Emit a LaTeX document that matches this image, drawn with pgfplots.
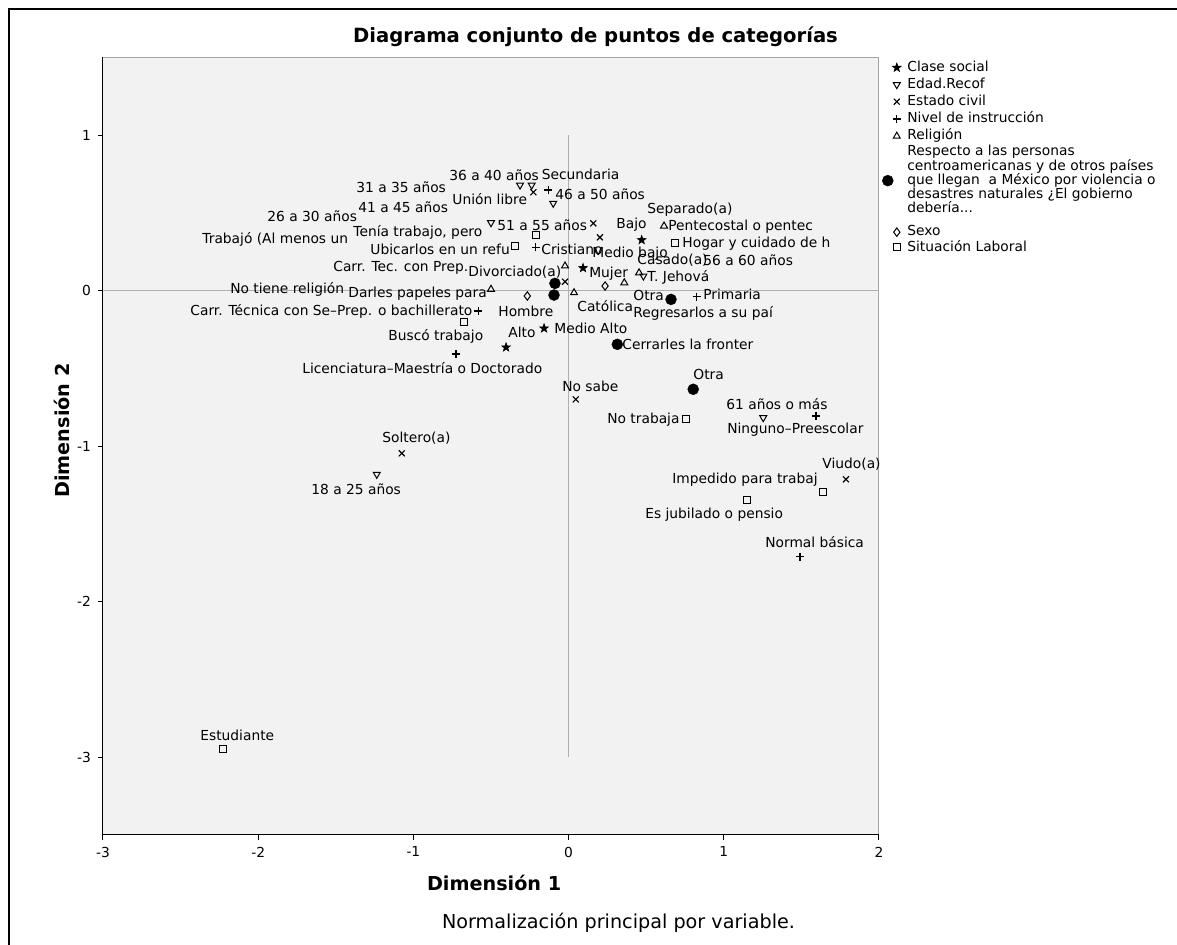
\documentclass[border=0pt]{standalone}
\usepackage{fontspec}
\setmainfont{DejaVu Sans}
\usepackage{pgfplots}
\pgfplotsset{compat=1.18}
\usetikzlibrary{plotmarks}

\definecolor{plotbg}{RGB}{242,242,242}
\definecolor{framegray}{RGB}{165,165,165}
\definecolor{refgray}{RGB}{175,175,175}

\newcommand{\lbl}{\fontsize{6.9}{8}\selectfont}
\newcommand{\rs}[2]{\vrule height #1 depth #2 width 0pt\relax}

% filled five-pointed star
\pgfdeclareplotmark{fstar}{%
  \pgfpathmoveto{\pgfpointpolar{90}{\pgfplotmarksize}}%
  \pgfpathlineto{\pgfpointpolar{126}{0.4\pgfplotmarksize}}%
  \pgfpathlineto{\pgfpointpolar{162}{\pgfplotmarksize}}%
  \pgfpathlineto{\pgfpointpolar{198}{0.4\pgfplotmarksize}}%
  \pgfpathlineto{\pgfpointpolar{234}{\pgfplotmarksize}}%
  \pgfpathlineto{\pgfpointpolar{270}{0.4\pgfplotmarksize}}%
  \pgfpathlineto{\pgfpointpolar{306}{\pgfplotmarksize}}%
  \pgfpathlineto{\pgfpointpolar{342}{0.4\pgfplotmarksize}}%
  \pgfpathlineto{\pgfpointpolar{18}{\pgfplotmarksize}}%
  \pgfpathlineto{\pgfpointpolar{54}{0.4\pgfplotmarksize}}%
  \pgfpathclose
  \pgfusepathqfillstroke
}

\tikzset{lab/.style={anchor=west, inner sep=0pt, font=\lbl}}

\pgfplotsset{
  legimg/.style={legend image code/.code={\draw[##1] plot coordinates {(0pt,1.9pt)};}},
  legimgl/.style={legend image code/.code={\draw[##1] plot coordinates {(-4.5pt,1.9pt)};}},
  sstar/.style={only marks, mark=fstar, mark size=2.3pt, mark options={fill=black, draw=black, line width=0.3pt}},
  sdown/.style={only marks, mark=triangle, mark size=2pt, mark options={rotate=180, draw=black, line width=0.5pt}},
  scross/.style={only marks, mark=x, mark size=2.1pt, mark options={draw=black, line width=0.6pt}},
  splus/.style={only marks, mark=+, mark size=2pt, mark options={draw=black, line width=0.6pt}},
  sup/.style={only marks, mark=triangle, mark size=2pt, mark options={draw=black, line width=0.5pt}},
  sdot/.style={only marks, mark=*, mark size=2.75pt, mark options={fill=black, draw=black, line width=0.2pt}},
  sdiam/.style={only marks, mark=diamond, mark size=2.1pt, mark options={draw=black, fill=white, line width=0.5pt}},
  ssq/.style={only marks, mark=square, mark size=1.75pt, mark options={draw=black, fill=white, line width=0.5pt}},
}

\begin{document}
\begin{tikzpicture}
\path[use as bounding box] (-51.5pt,-55.1pt) rectangle (537pt,417.4pt);
\draw[line width=1pt] (-47pt,-55.1pt) -- (-47pt,412.9pt) -- (537pt,412.9pt);

\begin{axis}[
  at={(0,0)}, anchor=south west, scale only axis,
  width=388pt, height=388.75pt,
  xmin=-3, xmax=2, ymin=-3.5, ymax=1.5,
  xtick={-3,-2,-1,0,1,2}, ytick={-3,-2,-1,0,1},
  axis x line*=bottom, axis y line*=left,
  axis line style={black, line width=0.5pt, -},
  axis background/.style={fill=plotbg, draw=framegray, line width=0.5pt},
  tick align=outside, major tick length=2.5pt,
  tick style={black, line width=0.5pt},
  ticklabel style={font=\lbl},
  /pgf/number format/assume math mode=true,
  xlabel={Dimensión 1}, ylabel={Dimensión 2},
  xlabel style={at={(axis description cs:0.504,-0.062)}, anchor=center, font=\bfseries\fontsize{9.6}{11}\selectfont},
  ylabel style={at={(axis description cs:-0.0528,0.52)}, anchor=center, font=\bfseries\fontsize{9.6}{11}\selectfont},
  legend cell align=left,
  legend style={at={(axis cs:2,1.5)}, anchor=north west, xshift=1.65pt, yshift=-1.7pt,
    draw=none, fill=none, font=\lbl, inner sep=0pt, outer sep=0pt,
    row sep=0pt, column sep=3.1pt, nodes={inner sep=0pt, text depth=}, cells={anchor=base west}},
  clip=false,
]
% reference lines through the origin
\addplot[refgray, line width=0.5pt, forget plot] coordinates {(-3,0) (2,0)};
\addplot[refgray, line width=0.5pt, forget plot] coordinates {(0,-3) (0,1)};

% Clase social
\addplot[sstar, forget plot] coordinates {(0.471,0.325) (0.093,0.145) (-0.158,-0.243) (-0.403,-0.365)};
% Edad.Recof
\addplot[sdown, forget plot] coordinates {(-0.313,0.678) (-0.238,0.678) (-0.099,0.561) (-0.500,0.436) (0.482,0.093) (1.254,-0.818) (-1.236,-1.182)};
% Estado civil
\addplot[scross, forget plot] coordinates {(-1.075,-1.047) (-0.227,0.632) (0.159,0.432) (0.202,0.342) (-0.023,0.057) (0.046,-0.700) (1.787,-1.214)};
% Nivel de instrucción
\addplot[splus, forget plot] coordinates {(-0.131,0.646) (-0.212,0.278) (-0.582,-0.132) (-0.726,-0.408) (0.825,-0.040) (1.594,-0.807) (1.491,-1.712)};
% Religión
\addplot[sup, forget plot] coordinates {(0.615,0.415) (-0.023,0.158) (-0.500,0.008) (0.035,-0.014) (0.359,0.050) (0.454,0.114)};
% Respecto a las personas centroamericanas ...
\addplot[sdot, forget plot] coordinates {(-0.088,0.046) (-0.094,-0.029) (0.660,-0.057) (0.314,-0.346) (0.803,-0.635)};
% Sexo
\addplot[sdiam, forget plot] coordinates {(-0.266,-0.035) (0.235,0.029)};
% Situación Laboral
\addplot[ssq, forget plot] coordinates {(-2.229,-2.950) (-0.212,0.357) (-0.345,0.286) (-0.672,-0.204) (0.686,0.304) (0.755,-0.828) (1.641,-1.298) (1.148,-1.347)};

% legend
\addlegendimage{sstar, legimg}\addlegendentry{\rs{5.4pt}{3.1pt}Clase social}
\addlegendimage{sdown, legimg}\addlegendentry{\rs{5.4pt}{3.1pt}Edad.Recof}
\addlegendimage{scross, legimg}\addlegendentry{\rs{5.4pt}{3.1pt}Estado civil}
\addlegendimage{splus, legimg}\addlegendentry{\rs{5.4pt}{3.1pt}Nivel de instrucción}
\addlegendimage{sup, legimg}\addlegendentry{\rs{5.4pt}{2.75pt}Religión}
\addlegendimage{empty legend}\addlegendentry{\rs{5.25pt}{1.6pt}Respecto a las personas}
\addlegendimage{empty legend}\addlegendentry{\rs{5.25pt}{1.6pt}centroamericanas y de otros países}
\addlegendimage{sdot, legimgl}\addlegendentry{\rs{5.25pt}{1.6pt}que llegan\ \ a México por violencia o}
\addlegendimage{empty legend}\addlegendentry{\rs{5.25pt}{1.6pt}desastres naturales ¿El gobierno}
\addlegendimage{empty legend}\addlegendentry{\rs{5.25pt}{1.6pt}debería...}
\addlegendimage{sdiam, legimg}\addlegendentry{\rs{10.2pt}{2.1pt}Sexo}
\addlegendimage{ssq, legimg}\addlegendentry{\rs{5.25pt}{2pt}Situación Laboral}

% point labels
\node[lab] at (axis cs:-0.771,0.743) {36 a 40 años};
\node[lab] at (axis cs:-0.175,0.749) {Secundaria};
\node[lab] at (axis cs:-1.370,0.666) {31 a 35 años};
\node[lab] at (axis cs:-0.751,0.588) {Unión libre};
\node[lab] at (axis cs:-0.088,0.621) {46 a 50 años};
\node[lab] at (axis cs:-1.357,0.537) {41 a 45 años};
\node[lab] at (axis cs:-1.943,0.479) {26 a 30 años};
\node[lab] at (axis cs:-0.461,0.417) {51 a 55 años};
\node[lab] at (axis cs:-2.362,0.331) {Trabajó (Al menos un};
\node[lab] at (axis cs:-1.389,0.372) {Tenía trabajo, pero};
\node[lab] at (axis cs:-1.279,0.265) {Ubicarlos en un refu};
\node[lab] at (axis cs:-0.178,0.267) {Cristiano};
\node[lab] at (axis cs:-1.518,0.149) {Carr. Tec. con Prep.};
\node[lab] at (axis cs:-0.648,0.121) {Divorciado(a)};
\node[lab] at (axis cs:-2.182,0.008) {No tiene religión};
\node[lab] at (axis cs:-1.421,-0.018) {Darles papeles para};
\node[lab] at (axis cs:0.505,0.522) {Separado(a)};
\node[lab] at (axis cs:0.305,0.421) {Bajo};
\node[lab] at (axis cs:0.640,0.410) {Pentecostal o pentec};
\node[lab] at (axis cs:0.731,0.299) {Hogar y cuidado de h};
\node[lab] at (axis cs:0.151,0.235) {Medio bajo};
\node[lab] at (axis cs:0.441,0.196) {Casado(a)};
\node[lab] at (axis cs:0.866,0.196) {56 a 60 años};
\node[lab] at (axis cs:0.131,0.111) {Mujer};
\node[lab] at (axis cs:0.505,0.082) {T. Jehová};
\node[lab] at (axis cs:0.415,-0.029) {Otra};
\node[lab] at (axis cs:0.866,-0.023) {Primaria};
\node[lab] at (axis cs:0.054,-0.100) {Católica};
\node[lab] at (axis cs:0.415,-0.147) {Regresarlos a su paí};
\node[lab] at (axis cs:-0.094,-0.241) {Medio Alto};
\node[lab] at (axis cs:-0.390,-0.267) {Alto};
\node[lab] at (axis cs:0.344,-0.346) {Cerrarles la fronter};
\node[lab] at (axis cs:0.802,-0.543) {Otra};
\node[lab] at (axis cs:-0.043,-0.614) {No sabe};
\node[lab] at (axis cs:0.247,-0.828) {No trabaja};
\node[lab] at (axis cs:1.014,-0.732) {61 años o más};
\node[lab] at (axis cs:1.020,-0.897) {Ninguno–Preescolar};
\node[lab] at (axis cs:1.633,-1.116) {Viudo(a)};
\node[lab] at (axis cs:0.666,-1.214) {Impedido para trabaj};
\node[lab] at (axis cs:0.492,-1.439) {Es jubilado o pensio};
\node[lab] at (axis cs:1.265,-1.615) {Normal básica};
\node[lab] at (axis cs:-2.439,-0.132) {Carr. Técnica con Se–Prep. o bachillerato};
\node[lab] at (axis cs:-0.455,-0.132) {Hombre};
\node[lab] at (axis cs:-1.164,-0.297) {Buscó trabajo};
\node[lab] at (axis cs:-1.718,-0.500) {Licenciatura–Maestría o Doctorado};
\node[lab] at (axis cs:-1.202,-0.950) {Soltero(a)};
\node[lab] at (axis cs:-1.660,-1.277) {18 a 25 años};
\node[lab] at (axis cs:-2.375,-2.859) {Estudiante};
\end{axis}

\node[font=\bfseries\fontsize{9.8}{12}\selectfont] at (246.25pt,398.9pt) {Diagrama conjunto de puntos de categorías};
\node[font=\fontsize{9.6}{12}\selectfont] at (257.75pt,-44.1pt) {Normalización principal por variable.};
\end{tikzpicture}
\end{document}
